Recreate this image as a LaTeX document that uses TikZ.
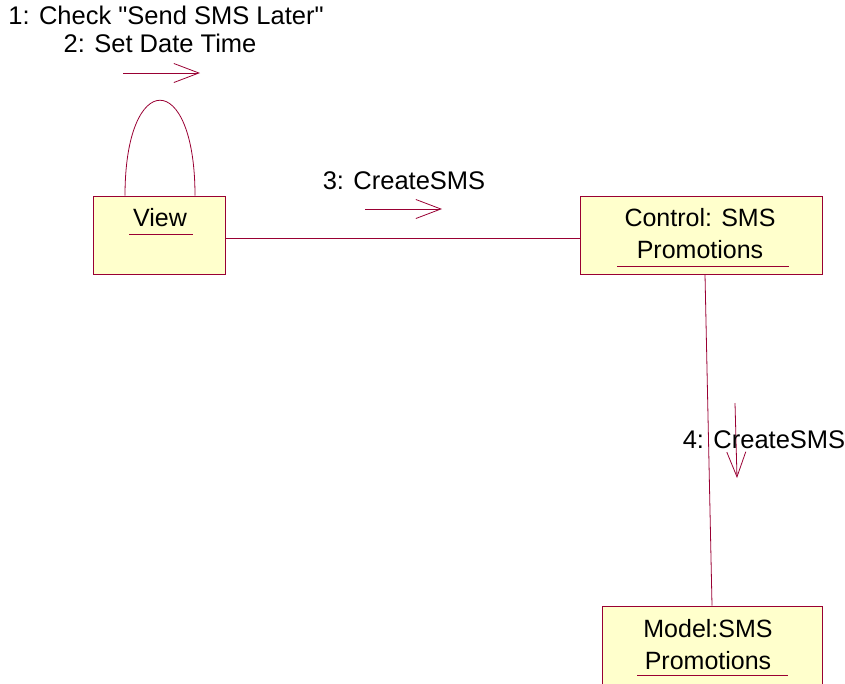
\documentclass[tikz,border=0pt]{standalone}
\usepackage{fontspec}
\setmainfont{Liberation Sans}
\usetikzlibrary{arrows.meta}
\definecolor{rosered}{RGB}{153,0,51}
\definecolor{rosefill}{RGB}{255,255,204}
\tikzset{
  objbox/.style={draw=rosered,fill=rosefill,line width=1pt,inner sep=0pt},
  objtext/.style={font=\fontsize{25}{32}\selectfont,align=center,inner sep=0pt},
  msgtext/.style={font=\fontsize{25.5}{30}\selectfont,inner sep=0pt},
  uline/.style={draw=rosered,line width=1pt},
  link/.style={draw=rosered,line width=0.8pt},
  msg/.style={draw=rosered,line width=0.8pt,-{Straight Barb[length=25pt,width=19pt]}}
}
\begin{document}
\begin{tikzpicture}[x=1pt,y=-1pt]
      \useasboundingbox (0,0) rectangle (845,683);
      \node[objbox,minimum width=132,minimum height=78] (view) at (159,235) {};
      \node[objbox,minimum width=242,minimum height=78] (control) at (701,235) {};
      \node[objbox,minimum width=220,minimum height=78] (model) at (712,645) {};
      \node[objtext] (viewlbl) at (160,218) {View};
      \node[objtext] (controllbl) at (700,234) {Control: SMS\\Promotions};
      \node[objtext] (modellbl) at (708,645) {Model:SMS\\Promotions};
      \draw[uline] (129,234) -- (193,234);
      \draw[uline] (617,266) -- (789,266);
      \draw[uline] (637,675) -- (788,675);
      \begin{scope}[link]
        \draw ([xshift=-34]view.north) .. controls +(0,-127) and +(0,-127) .. ([xshift=36]view.north);
        \draw ([yshift=-3]view.east) -- ([yshift=-3]control.west);
        \draw ([xshift=4]control.south) -- (model.north);
      \end{scope}
      % messages
      \coordinate (m1s) at (123,73);
      \coordinate (m1e) at (200,73);
      \coordinate (m3s) at (365,209);
      \coordinate (m3e) at (442,209);
      \coordinate (m4s) at (735,403);
      \coordinate (m4e) at (737,478);
      \draw[msg] (m1s) -- (m1e);
      \draw[msg] (m3s) -- (m3e);
      \draw[msg] (m4s) -- (m4e);
      \node[msgtext] (lbl1) at (166,15) {1: Check \textquotedbl Send SMS Later\textquotedbl};
      \node[msgtext] (lbl2) at (160,43) {2: Set Date Time};
      \node[msgtext] (lbl3) at (404,181) {3: CreateSMS};
      \node[msgtext] (lbl4) at (764,440) {4: CreateSMS};
    \end{tikzpicture}
\end{document}
